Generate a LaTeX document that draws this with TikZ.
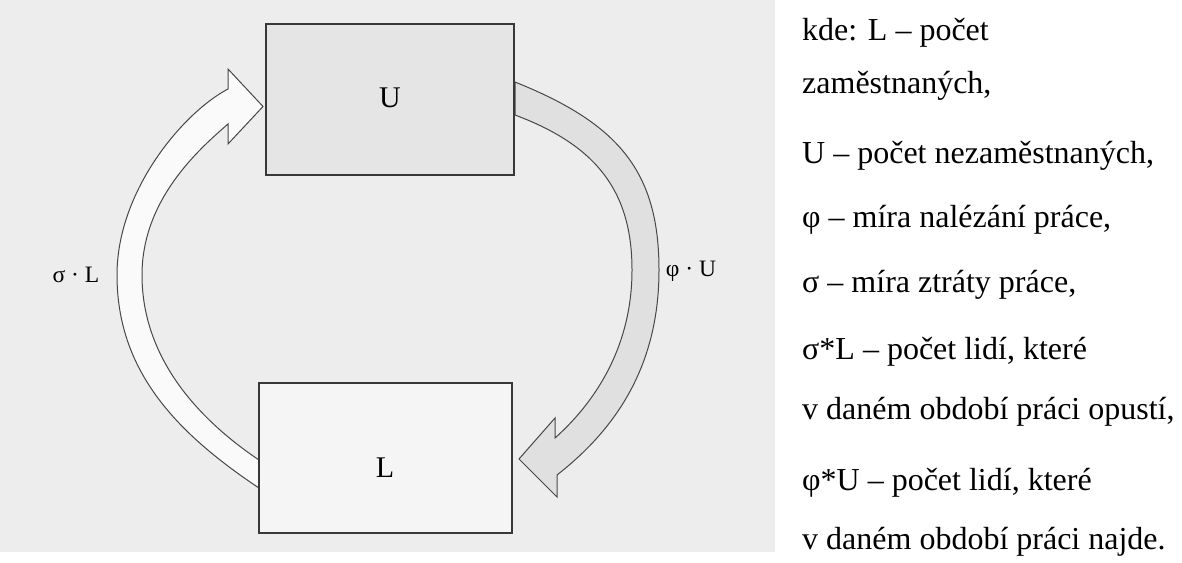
\documentclass[tikz,border=0pt]{standalone}
\usepackage{fontspec}
\setmainfont{Liberation Serif}
\begin{document}
\begin{tikzpicture}[x=1pt,y=-1pt,
  box/.style={draw=black!78,line width=1.3pt,inner sep=0pt},
  blockarrow/.style={draw=black!72,line width=1pt,line join=miter},
  lbl/.style={inner sep=0pt,anchor=center,font=\fontsize{23.5}{26}\selectfont},
  boxlbl/.style={inner sep=0pt,anchor=center,font=\fontsize{30}{33}\selectfont},
  legend/.style={inner sep=0pt,anchor=base west,font=\fontsize{32}{36}\selectfont}]
\useasboundingbox (0,0) rectangle (1182,562);
\fill[white] (0,0) rectangle (1182,562);
% scanned page background
\fill[black!7] (0,0) rectangle (775,552);

% left arrow (sigma L), from L up to U
\filldraw[blockarrow,fill=black!2]
  (259,488) .. controls (175,432) and (117,370) .. (117,275)
            .. controls (117,190) and (184,112) .. (228,89)
  -- (228,69) -- (263,106.5) -- (228,144) -- (228,124)
            .. controls (198,150) and (142,200) .. (142,275)
            .. controls (142,360) and (201,421) .. (259,460) -- cycle;

% right arrow (phi U), from U down to L
\filldraw[blockarrow,fill=black!12]
  (515,82) .. controls (617,123) and (659,170) .. (659,270)
           .. controls (659,370) and (612,432) .. (557,475)
  -- (557,497) -- (519,459) -- (555,418) -- (555,438)
           .. controls (592,405) and (632,350) .. (632,270)
           .. controls (632,190) and (595,145) .. (515,115) -- cycle;

% boxes
\node[box,fill=black!10,minimum width=248pt,minimum height=151pt] (U) at (390,99.5) {};
\node[box,fill=black!4,minimum width=253pt,minimum height=150pt] (L) at (385.5,458) {};
\node[boxlbl] (Ut) at (390,98) {U};
\node[boxlbl] (Lt) at (385,468) {L};

% flow labels
\node[lbl] (sL) at (76,275) {σ · L};
\node[lbl] (pU) at (691,271) {φ · U};

% legend
\node[legend] (t1) at (802,40)  {kde: L – počet};
\node[legend] (t2) at (802,93)  {zaměstnaných,};
\node[legend] (t3) at (802,163) {U – počet nezaměstnaných,};
\node[legend] (t4) at (802,227) {φ – míra nalézání práce,};
\node[legend] (t5) at (802,292) {σ – míra ztráty práce,};
\node[legend] (t6) at (802,359) {σ*L – počet lidí, které};
\node[legend] (t7) at (802,419) {v daném období práci opustí,};
\node[legend] (t8) at (802,490) {φ*U – počet lidí, které};
\node[legend] (t9) at (802,549) {v daném období práci najde.};
\end{tikzpicture}
\end{document}
